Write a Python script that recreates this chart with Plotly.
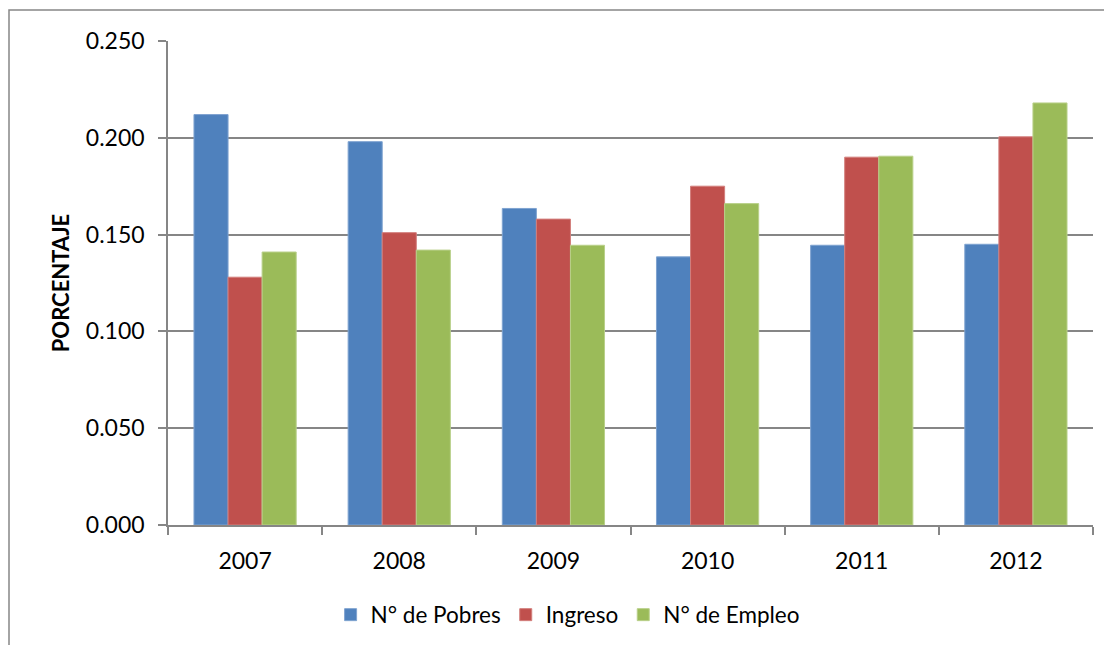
import plotly.graph_objects as go

years = ["2007", "2008", "2009", "2010", "2011", "2012"]
pobres = [0.212, 0.198, 0.1635, 0.1385, 0.1445, 0.145]
ingreso = [0.128, 0.151, 0.158, 0.175, 0.190, 0.2005]
empleo = [0.141, 0.142, 0.1445, 0.166, 0.1905, 0.218]

series = [
    ("N° de Pobres", pobres, "#4F81BD", "#7FA3D0"),
    ("Ingreso", ingreso, "#C0504D", "#D27E7C"),
    ("N° de Empleo", empleo, "#9BBB59", "#B9D08A"),
]

fig = go.Figure()
for name, vals, col, edge in series:
    fig.add_trace(go.Bar(x=years, y=vals, name=name, marker=dict(color=col, line=dict(color=edge, width=1))))

FONT = "Lato, Open Sans, sans-serif"
grid = "#868686"

# figure is offset by the 8px page margin
W, H = 1104, 637
L, R, T, B = 160, 19, 33, 120
pw, ph = W - L - R, H - T - B

fig.update_layout(
    width=W, height=H,
    margin=dict(l=L, r=R, t=T, b=B, autoexpand=False),
    paper_bgcolor="white", plot_bgcolor="white",
    barmode="group", bargap=0.337, bargroupgap=0,
    font=dict(family=FONT, size=23, color="black"),
    showlegend=True,
    legend=dict(orientation="h", x=0.432, xanchor="center", y=-0.186, yanchor="middle",
                font=dict(size=22.5), itemwidth=30, traceorder="normal"),
    xaxis=dict(showline=True, linecolor=grid, linewidth=1.5, ticks="outside", ticklen=8,
               tickcolor=grid, tickwidth=1.5, tickson="boundaries", showgrid=False,
               tickfont=dict(size=23), ticklabelstandoff=15, automargin=False),
    yaxis=dict(range=[0, 0.25], dtick=0.05, tickformat=".3f", showline=True, linecolor=grid,
               linewidth=1.5, ticks="outside", ticklen=8, tickcolor=grid, tickwidth=1.5,
               showgrid=True, gridcolor=grid, gridwidth=1.5, zeroline=False,
               tickfont=dict(size=23), ticklabelstandoff=9, automargin=False,
               title=dict(text="<b>PORCENTAJE</b>", font=dict(size=22), standoff=10)),
    shapes=[dict(type="rect", xref="paper", yref="paper",
                 x0=(1 - L) / pw, x1=(1130 - L) / pw,
                 y0=(H - B - 660) / ph, y1=(H - B - 2) / ph,
                 line=dict(color=grid, width=1.5), layer="below")],
)

fig.write_html("out.html")
